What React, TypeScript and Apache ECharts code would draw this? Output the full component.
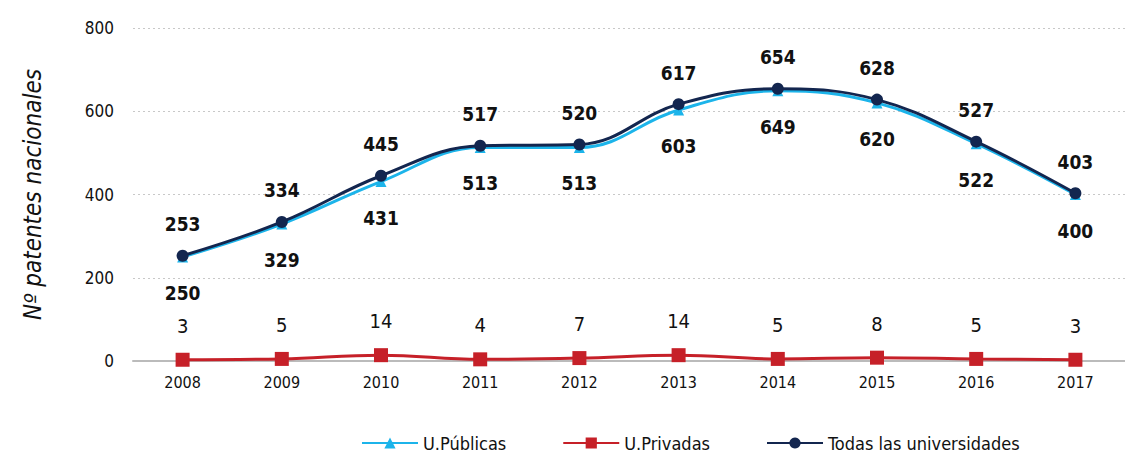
import React, { useEffect, useRef } from "react";
import * as echarts from "echarts";

const years = ["2008", "2009", "2010", "2011", "2012", "2013", "2014", "2015", "2016", "2017"];
const publicas = [250, 329, 431, 513, 513, 603, 649, 620, 522, 400];
const privadas = [3, 5, 14, 4, 7, 14, 5, 8, 5, 3];
const todas = [253, 334, 445, 517, 520, 617, 654, 628, 527, 403];

const FONT = "'DejaVu Sans Condensed', 'Liberation Sans Narrow', 'Roboto', sans-serif";

export default function App() {
  const ref = useRef<HTMLDivElement>(null);
  useEffect(() => {
    const chart = echarts.init(ref.current!, undefined, { renderer: "svg" });
    chart.setOption({
      animation: false,
      textStyle: { fontFamily: FONT },
      grid: { left: 133, right: -14, top: 28, bottom: 96 },
      legend: {
        bottom: 0,
        left: 356,
        itemGap: 56,
        itemWidth: 56,
        itemHeight: 14,
        textStyle: { fontFamily: FONT, fontSize: 18, color: "#111" },
        data: ["U.Públicas", "U.Privadas", "Todas las universidades"],
      },
      xAxis: {
        type: "category",
        data: years,
        boundaryGap: true,
        axisTick: { show: false },
        axisLine: { lineStyle: { color: "#bbbbbb", width: 2 } },
        axisLabel: { color: "#111", fontSize: 16, fontFamily: FONT, margin: 13 },
      },
      yAxis: {
        type: "value",
        min: 0,
        max: 800,
        interval: 200,
        name: "Nº patentes nacionales",
        nameLocation: "middle",
        nameGap: 88,
        nameTextStyle: { fontSize: 24, fontStyle: "italic", color: "#111", fontFamily: FONT },
        axisLine: { show: false },
        axisTick: { show: false },
        axisLabel: { color: "#111", fontSize: 17, fontFamily: FONT, margin: 19 },
        splitLine: { lineStyle: { color: "#c8c8c8", type: [2, 3], width: 1 } },
      },
      series: [
        {
          name: "U.Públicas",
          type: "line",
          data: publicas,
          smooth: 0.4,
          symbol: "triangle",
          symbolSize: 11,
          itemStyle: { color: "#1cb4ea" },
          lineStyle: { color: "#1cb4ea", width: 3 },
          z: 2,
          label: {
            show: true,
            position: "bottom",
            distance: 21,
            fontSize: 19,
            fontWeight: "bold",
            color: "#111",
            fontFamily: FONT,
          },
        },
        {
          name: "U.Privadas",
          type: "line",
          data: privadas,
          smooth: 0.4,
          symbol: "rect",
          symbolSize: 14,
          itemStyle: { color: "#c62028" },
          lineStyle: { color: "#c62028", width: 3 },
          z: 3,
          label: {
            show: true,
            position: "top",
            distance: 17,
            fontSize: 20,
            color: "#111",
            fontFamily: FONT,
          },
        },
        {
          name: "Todas las universidades",
          type: "line",
          data: todas,
          smooth: 0.4,
          symbol: "circle",
          symbolSize: 12,
          itemStyle: { color: "#13264f" },
          lineStyle: { color: "#13264f", width: 3 },
          z: 4,
          label: {
            show: true,
            position: "top",
            distance: 16,
            fontSize: 19,
            fontWeight: "bold",
            color: "#111",
            fontFamily: FONT,
          },
        },
      ],
    });
    return () => chart.dispose();
  }, []);
  return <div ref={ref} style={{ width: 1125, height: 457, position: "absolute", left: 0, top: 0 }} />;
}
